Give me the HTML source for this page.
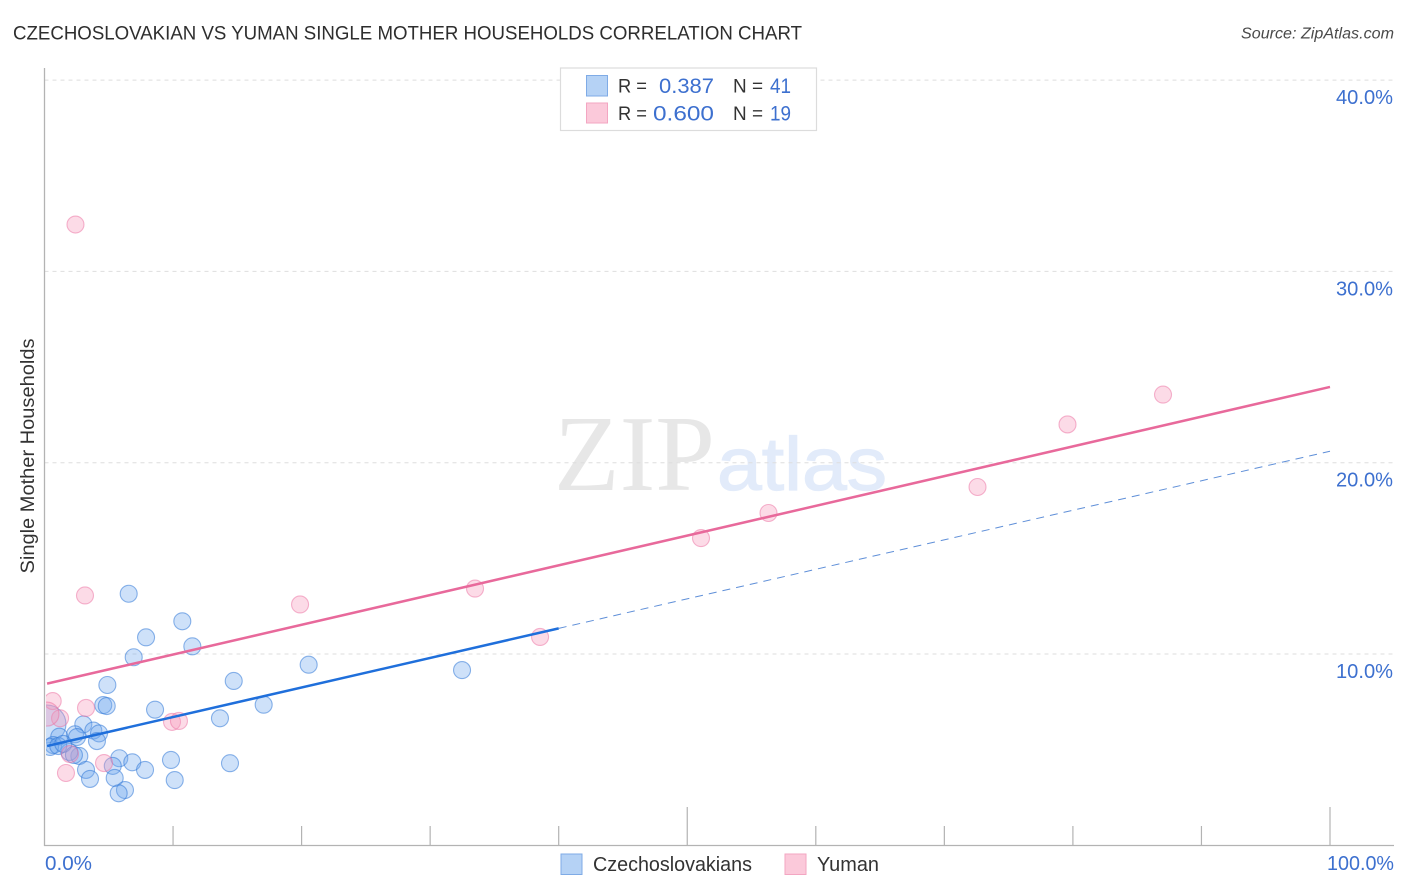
<!DOCTYPE html>
<html lang="en">
<head>
<meta charset="utf-8">
<title>Czechoslovakian vs Yuman Single Mother Households Correlation Chart</title>
<style>
html,body{margin:0;padding:0;background:#fff;}
body{width:1406px;height:892px;overflow:hidden;}
svg{display:block;}
.sans{font-family:"Liberation Sans",sans-serif;}
.val{font-family:"Liberation Sans",sans-serif;fill:#3d70cf;}
</style>
</head>
<body>
<svg id="chart" width="1406" height="892" viewBox="0 0 1406 892" xmlns="http://www.w3.org/2000/svg">
  <defs><clipPath id="plot-clip"><rect x="46" y="60" width="1350" height="785"></rect></clipPath></defs>
  <text class="sans" x="13" y="39.5" font-size="19.5" fill="#2e2e2e" textLength="789" lengthAdjust="spacingAndGlyphs">CZECHOSLOVAKIAN VS YUMAN SINGLE MOTHER HOUSEHOLDS CORRELATION CHART</text>
  <text class="sans" x="1241" y="38.5" font-size="15.5" font-style="italic" fill="#4a4a4a" textLength="153" lengthAdjust="spacingAndGlyphs">Source: ZipAtlas.com</text>
  <text class="sans" transform="translate(34 573.5) rotate(-90)" font-size="19" fill="#333" textLength="235" lengthAdjust="spacingAndGlyphs">Single Mother Households</text>

  <g>
    <text x="554" y="490" font-family="'Liberation Serif',serif" font-size="108" fill="#e7e7e7" textLength="161" lengthAdjust="spacingAndGlyphs">ZIP</text>
    <text class="sans" x="717" y="490" font-size="75" fill="#e2ebfa" stroke="#e2ebfa" stroke-width="1.2" textLength="170" lengthAdjust="spacingAndGlyphs">atlas</text>
  </g>

  <g id="grid"></g>
  <g id="axes"></g>
  <g id="blue-points" clip-path="url(#plot-clip)"></g>
  <g id="pink-points" clip-path="url(#plot-clip)"></g>
  <g id="trends"></g>
  <g id="tick-labels"></g>

  <g>
    <rect x="560.5" y="68" width="256" height="62.5" fill="#fff" stroke="#dcdcdc" stroke-width="1.2"></rect>
    <rect x="586.5" y="75.5" width="21" height="20.5" fill="#b5d2f5" stroke="#7fabe6" stroke-width="1"></rect>
    <rect x="586.5" y="103" width="21" height="20" fill="#fbc9da" stroke="#f3a6c2" stroke-width="1"></rect>
    <text class="sans" x="618" y="92.5" font-size="19.5" fill="#333" textLength="29" lengthAdjust="spacingAndGlyphs">R =</text>
    <text class="val" x="659" y="93" font-size="21.5" textLength="55" lengthAdjust="spacingAndGlyphs">0.387</text>
    <text class="sans" x="733" y="92.5" font-size="19.5" fill="#333" textLength="30" lengthAdjust="spacingAndGlyphs">N =</text>
    <text class="val" x="770" y="93" font-size="21.5" textLength="21" lengthAdjust="spacingAndGlyphs">41</text>
    <text class="sans" x="618" y="120" font-size="19.5" fill="#333" textLength="29" lengthAdjust="spacingAndGlyphs">R =</text>
    <text class="val" x="653" y="120.5" font-size="21.5" textLength="61" lengthAdjust="spacingAndGlyphs">0.600</text>
    <text class="sans" x="733" y="120" font-size="19.5" fill="#333" textLength="30" lengthAdjust="spacingAndGlyphs">N =</text>
    <text class="val" x="770" y="120.5" font-size="21.5" textLength="21" lengthAdjust="spacingAndGlyphs">19</text>
  </g>

  <g>
    <rect x="561" y="854" width="21" height="20.5" fill="#b5d2f5" stroke="#7fabe6" stroke-width="1"></rect>
    <text class="sans" x="593" y="871" font-size="20" fill="#333" textLength="159" lengthAdjust="spacingAndGlyphs">Czechoslovakians</text>
    <rect x="785" y="854" width="21" height="20.5" fill="#fbc9da" stroke="#f3a6c2" stroke-width="1"></rect>
    <text class="sans" x="817" y="871" font-size="20" fill="#333" textLength="62" lengthAdjust="spacingAndGlyphs">Yuman</text>
  </g>
</svg>

<script>
const xTickValues = [0, 10, 20, 30, 40, 50, 60, 70, 80, 90, 100];
const xMajorTicks = [50, 100];
const yGridValues = [10, 20, 30, 40];
const yTickLabels = ["10.0%", "20.0%", "30.0%", "40.0%"];
const xEndLabels = ["0.0%", "100.0%"];

const blueX = [6.55, 10.72, 7.90, 11.50, 6.94, 4.89, 4.57, 4.84, 8.60, 14.72, 17.05, 13.65, 20.55, 32.48, 3.02, 3.80, 4.24, 4.08, 2.37, 5.82, 6.83, 7.82, 9.84, 14.43, 10.13, 5.31, 5.46, 6.26, 5.77, 2.71, 3.23, 3.54, 1.93, 0.19, 1.15, 0.68, 0.43, 1.07, 1.46, 2.53, 2.29];
const blueY = [13.15, 11.71, 10.87, 10.40, 9.83, 8.38, 7.33, 7.28, 7.09, 8.59, 7.35, 6.64, 9.44, 9.16, 6.32, 6.00, 5.85, 5.45, 5.80, 4.55, 4.34, 3.94, 4.46, 4.29, 3.41, 4.15, 3.52, 2.89, 2.72, 4.67, 3.94, 3.47, 4.88, 6.34, 5.68, 5.24, 5.14, 5.19, 5.30, 5.66, 4.72];
const blueWeight = [1, 1, 1, 1, 1, 1, 1, 1, 1, 1, 1, 1, 1, 1, 1, 1, 1, 1, 1, 1, 1, 1, 1, 1, 1, 1, 1, 1, 1, 1, 1, 1, 1, 5, 1, 1, 1, 1, 1, 1, 1];

const pinkX = [2.41, 3.15, 19.88, 33.49, 38.55, 51.07, 56.32, 72.58, 79.58, 87.01, 9.92, 10.46, 0.64, 1.21, 3.23, 4.63, 1.67, 1.98, 0.19];
const pinkY = [32.45, 13.06, 12.59, 13.42, 10.89, 16.06, 17.37, 18.73, 22.00, 23.56, 6.45, 6.50, 7.54, 6.64, 7.18, 4.30, 3.78, 4.77, 6.86];
const pinkWeight = [1, 1, 1, 1, 1, 1, 1, 1, 1, 1, 1, 1, 1, 1, 1, 1, 1, 1, 2];

const blueTrendSolidX = [0.2, 40];
const blueTrendSolidY = [5.19, 11.34];
const blueTrendDashedX = [40, 100];
const blueTrendDashedY = [11.34, 20.6];
const pinkTrendX = [0.2, 100];
const pinkTrendY = [8.45, 23.96];

const SVG_NS = "http://www.w3.org/2000/svg";
function xScale(v) { return 44.5 + v * 12.855; }
function yScale(v) { return 845.3 - v * 19.13; }
function radius(w) { return 8.5 * Math.sqrt(w); }
function make(tag, attrs, parent) {
  const el = document.createElementNS(SVG_NS, tag);
  for (const k in attrs) el.setAttribute(k, attrs[k]);
  parent.appendChild(el);
  return el;
}

const gridG = document.getElementById("grid");
yGridValues.forEach(function (v) {
  const el = make("line", { x1: 44.5, x2: 1393, y1: yScale(v), y2: yScale(v), stroke: "#dedede", "stroke-width": 1, "stroke-dasharray": "4 4" }, gridG);
  
  
});

const axesG = document.getElementById("axes");
const yAxisLine = make("line", { x1: 44.5, x2: 44.5, y1: 68, y2: 846, stroke: "#b3b3b3", "stroke-width": 1.3 }, axesG);


const xAxisLine = make("line", { x1: 44, x2: 1394, y1: 845.5, y2: 845.5, stroke: "#b3b3b3", "stroke-width": 1.3 }, axesG);


xTickValues.slice(1).forEach(function (v) {
  const top = xMajorTicks.indexOf(v) >= 0 ? 807 : 826;
  const el = make("line", { x1: xScale(v), x2: xScale(v), y1: top, y2: 845, stroke: "#b3b3b3", "stroke-width": 1.2 }, axesG);
  
  
});

function drawPoints(group, xs, ys, ws, fill, stroke, name) {
  xs.forEach(function (x, i) {
    const el = make("circle", { cx: xScale(x), cy: yScale(ys[i]), r: radius(ws[i]), fill: fill, stroke: stroke, "stroke-width": 1.1 }, group);
    
    
  });
}
drawPoints(document.getElementById("blue-points"), blueX, blueY, blueWeight, "rgba(112,168,238,0.34)", "rgba(50,120,215,0.55)", "czechoslovakians-point");
drawPoints(document.getElementById("pink-points"), pinkX, pinkY, pinkWeight, "rgba(245,150,185,0.34)", "rgba(235,110,160,0.5)", "yuman-point");

const trendsG = document.getElementById("trends");
function pathFrom(xs, ys) {
  return xs.map(function (x, i) { return (i ? "L" : "M") + xScale(x) + " " + yScale(ys[i]); }).join(" ");
}
const blueSolid = make("path", { d: pathFrom(blueTrendSolidX, blueTrendSolidY), fill: "none", stroke: "#1f6fdb", "stroke-width": 2.5 }, trendsG);


const blueDashed = make("path", { d: pathFrom(blueTrendDashedX, blueTrendDashedY), fill: "none", stroke: "#5f8fd8", "stroke-width": 1, "stroke-dasharray": "8 6" }, trendsG);


const pinkLine = make("path", { d: pathFrom(pinkTrendX, pinkTrendY), fill: "none", stroke: "#e8699b", "stroke-width": 2.5 }, trendsG);



const labelsG = document.getElementById("tick-labels");
yGridValues.forEach(function (v, i) {
  const el = make("text", { x: 1336, y: yScale(v) + 24, "font-size": 20, textLength: 57, lengthAdjust: "spacingAndGlyphs", class: "val" }, labelsG);
  el.textContent = yTickLabels[i];
  
  
});
const xLabelStart = make("text", { x: 45, y: 870, "font-size": 20, textLength: 47, lengthAdjust: "spacingAndGlyphs", class: "val" }, labelsG);
xLabelStart.textContent = xEndLabels[0];


const xLabelEnd = make("text", { x: 1327, y: 870, "font-size": 20, textLength: 67, lengthAdjust: "spacingAndGlyphs", class: "val" }, labelsG);
xLabelEnd.textContent = xEndLabels[1];


</script>
</body>
</html>
